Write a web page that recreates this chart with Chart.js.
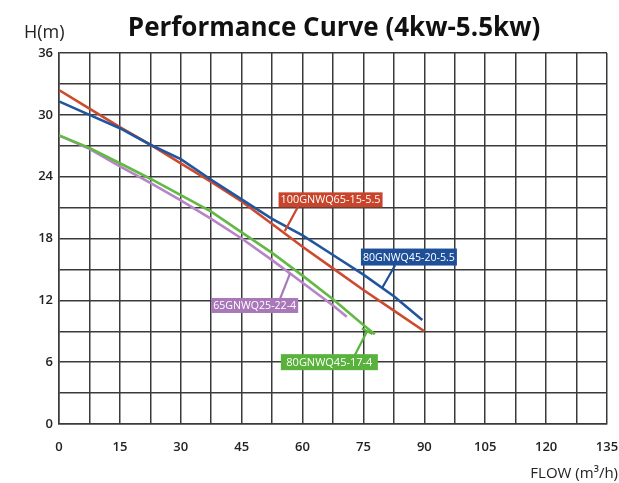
<!DOCTYPE html>
<html><head><meta charset="utf-8">
<script src="https://cdn.jsdelivr.net/npm/chart.js@4/dist/chart.umd.min.js"></script>
<style>html,body{margin:0;padding:0;background:#fff;}</style>
</head><body>
<canvas id="c" width="619" height="483"></canvas>
<script>
// ---- data ----
const xTickLabels = [0, 15, 30, 45, 60, 75, 90, 105, 120, 135];
const yTickLabels = [0, 6, 12, 18, 24, 30, 36];

const seriesNames = ["100GNWQ65-15-5.5", "80GNWQ45-20-5.5", "65GNWQ25-22-4", "80GNWQ45-17-4"];

const flowRed  = [0, 7.5, 15, 22.5, 30, 37.5, 45, 52.5, 60, 67.5, 75, 82.5, 90];
const headRed  = [32.4, 30.6, 28.8, 27.1, 25.3, 23.5, 21.6, 19.4, 17.2, 15.1, 13.0, 11.0, 9.0];

const flowBlue = [0, 7.5, 15, 22.5, 30, 37.5, 45, 52.5, 60, 67.5, 75, 82.5, 89.5];
const headBlue = [31.3, 30.0, 28.7, 27.1, 25.7, 23.7, 21.8, 19.9, 18.3, 16.4, 14.5, 12.4, 10.1];

const flowPurple = [0, 7.5, 15, 22.5, 30, 37.5, 45, 52.5, 60, 67.5, 70.9];
const headPurple = [28.0, 26.7, 25.0, 23.4, 21.7, 19.9, 18.0, 15.9, 13.7, 11.5, 10.4];

const flowGreen = [0, 7.5, 15, 22.5, 30, 37.5, 45, 52.5, 60, 67.5, 75, 77.8];
const headGreen = [28.0, 26.8, 25.3, 23.8, 22.2, 20.6, 18.6, 16.6, 14.4, 12.1, 9.6, 8.7];

const chartTitle = 'Performance Curve (4kw-5.5kw)';

function pts(xs, ys) { return xs.map((x, i) => ({x: x, y: ys[i]})); }

const RED = '#cc4a2d', BLUE = '#22559f', PURPLE = '#b585c7', GREEN = '#62b943';

// label callouts (box centre and connector in data units)
const callouts = [
  {text: seriesNames[0], bg: '#c8452b', cx: 66.9, cy: 21.75, w: 104, h: 15, from: [58.9, 21.1], to: [55.6, 18.7]},
  {text: seriesNames[1], bg: '#1f4f98', cx: 86.2, cy: 16.2, w: 96, h: 17, from: [82.8, 15.4], to: [79.6, 13.2]},
  {text: seriesNames[2], bg: '#a878b9', cx: 48.2, cy: 11.5, w: 87, h: 15, from: [54.4, 12.1], to: [56.9, 14.6]},
  {text: seriesNames[3], bg: '#58b23b', cx: 66.6, cy: 6.0, w: 97, h: 16, from: [72.9, 6.7], to: [75.9, 9.0], bar: true}
];

const GRID = '#3a3a3a';
const tickFont = {family: '"Open Sans", sans-serif', size: 13, weight: '600'};

const deco = {
  id: 'deco',
  afterDatasetsDraw(chart) {
    const ctx = chart.ctx, xs = chart.scales.x, ys = chart.scales.y;
    ctx.save();
    callouts.forEach(c => {
      const fx = xs.getPixelForValue(c.from[0]), fy = ys.getPixelForValue(c.from[1]);
      const tx = xs.getPixelForValue(c.to[0]), ty = ys.getPixelForValue(c.to[1]);
      ctx.strokeStyle = c.bg; ctx.lineWidth = 2.2;
      ctx.beginPath(); ctx.moveTo(fx, fy); ctx.lineTo(tx, ty); ctx.stroke();
      if (c.bar) {
        const dx = tx - fx, dy = ty - fy, L = Math.hypot(dx, dy);
        const px = -dy / L * 6, py = dx / L * 6;
        ctx.beginPath(); ctx.moveTo(tx - px, ty - py); ctx.lineTo(tx + px, ty + py); ctx.stroke();
      }
      const cx = xs.getPixelForValue(c.cx), cy = ys.getPixelForValue(c.cy);
      ctx.fillStyle = c.bg;
      ctx.fillRect(cx - c.w / 2, cy - c.h / 2, c.w, c.h);
      ctx.fillStyle = '#ffffff';
      ctx.font = '11px "Open Sans", sans-serif';
      ctx.textAlign = 'center'; ctx.textBaseline = 'middle';
      ctx.fillText(c.text, cx, cy + 0.5, c.w - 4);
    });
    // title and axis captions
    ctx.fillStyle = '#111';
    ctx.font = 'bold 26px "Open Sans", sans-serif';
    ctx.textAlign = 'center'; ctx.textBaseline = 'middle';
    ctx.fillText(chartTitle, 334, 29);
    ctx.fillStyle = '#222';
    ctx.font = '18px "Open Sans", sans-serif';
    ctx.textAlign = 'left'; ctx.textBaseline = 'middle';
    ctx.fillText('H(m)', 24, 33);
    ctx.font = '15px "Open Sans", sans-serif';
    ctx.textAlign = 'right';
    ctx.fillText('FLOW (m\u00B3/h)', 618, 474);
    ctx.restore();
  }
};

new Chart(document.getElementById('c'), {
  type: 'scatter',
  data: {
    datasets: [
      {label: seriesNames[0], data: pts(flowRed, headRed), borderColor: RED, order: 2},
      {label: seriesNames[1], data: pts(flowBlue, headBlue), borderColor: BLUE, order: 1},
      {label: seriesNames[2], data: pts(flowPurple, headPurple), borderColor: PURPLE, order: 4},
      {label: seriesNames[3], data: pts(flowGreen, headGreen), borderColor: GREEN, order: 3}
    ].map(d => Object.assign(d, {showLine: true, pointRadius: 0, borderWidth: 2.6, fill: false, tension: 0}))
  },
  options: {
    responsive: false,
    animation: false,
    devicePixelRatio: 1,
    layout: {autoPadding: false, padding: {left: 0, right: 12, top: 53, bottom: 0}},
    plugins: {
      legend: {display: false},
      tooltip: {enabled: false},
      title: {display: false}
    },
    scales: {
      x: {
        type: 'linear', min: 0, max: 135,
        afterFit(s) { s.height = 59; s.paddingRight = 0; s.paddingLeft = 0; },
        grid: {color: GRID, lineWidth: 1.5, drawTicks: false},
        border: {color: GRID, width: 1.5},
        ticks: {
          stepSize: 7.5, padding: 15, color: '#222', font: tickFont, maxRotation: 0, autoSkip: false,
          callback: v => xTickLabels.includes(v) ? String(v) : ''
        }
      },
      y: {
        type: 'linear', min: 0, max: 36,
        afterFit(s) { s.width = 59; s.paddingTop = 0; s.paddingBottom = 0; },
        grid: {color: GRID, lineWidth: 1.5, drawTicks: false},
        border: {color: GRID, width: 1.5},
        ticks: {
          stepSize: 3, padding: 6, color: '#222', font: tickFont, autoSkip: false,
          callback: v => yTickLabels.includes(v) ? String(v) : ''
        }
      }
    }
  },
  plugins: [deco]
});
</script>
</body></html>
